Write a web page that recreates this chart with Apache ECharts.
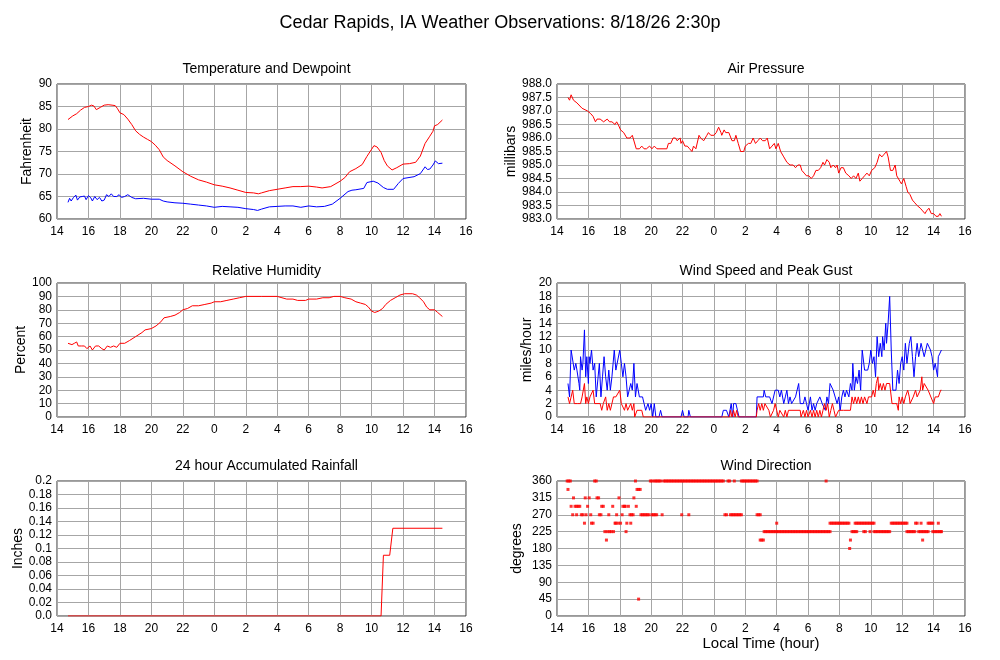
<!DOCTYPE html>
<html>
<head>
<meta charset="utf-8">
<title>Cedar Rapids, IA Weather Observations</title>
<script src="https://cdn.jsdelivr.net/npm/echarts@6/dist/echarts.min.js"></script>
<style>
  html, body { margin: 0; padding: 0; background: #ffffff; }
  #chart { width: 1000px; height: 660px; }
</style>
</head>
<body>
<div id="chart"></div>
<script>
// Hours run on from 14 (2 pm) to 40 (4 pm next day); labels wrap at 24.
const hourTicks = [14, 16, 18, 20, 22, 0, 2, 4, 6, 8, 10, 12, 14, 16];

// [hour, degF]
const temperature = [[14.7,82.1],[15.0,82.9],[15.25,83.4],[15.5,84.2],[15.75,84.8],[16.0,85.0],[16.2,85.3],[16.35,85.1],[16.5,84.3],[16.75,84.8],[17.0,85.3],[17.25,85.4],[17.5,85.3],[17.7,85.2],[17.85,84.5],[18.0,83.6],[18.25,83.2],[18.5,82.2],[18.75,81.0],[19.0,79.6],[19.25,78.8],[19.5,78.2],[19.75,77.7],[20.0,77.2],[20.25,76.4],[20.5,75.4],[20.75,73.8],[21.0,73.0],[21.5,71.8],[22.0,70.5],[22.5,69.5],[23.0,68.7],[23.5,68.2],[24.0,67.6],[24.5,67.3],[25.0,66.9],[25.5,66.4],[26.0,65.9],[26.5,65.8],[26.8,65.6],[27.0,65.8],[27.5,66.3],[28.0,66.6],[28.5,66.9],[29.0,67.2],[29.5,67.2],[30.0,67.3],[30.5,67.1],[30.85,66.9],[31.4,67.2],[32.0,68.4],[32.3,69.2],[32.6,70.5],[33.0,71.2],[33.4,72.1],[33.7,73.9],[34.0,75.5],[34.15,76.3],[34.35,76.0],[34.6,74.8],[34.8,73.0],[35.0,71.8],[35.3,70.9],[35.6,71.4],[36.0,72.2],[36.4,72.3],[36.8,72.6],[37.1,74.0],[37.4,76.8],[37.7,78.4],[37.9,79.5],[38.0,80.7],[38.2,81.0],[38.5,82.0]];

// [hour, degF]
const dewpoint = [[14.7,63.7],[14.8,64.6],[14.9,64.0],[15.05,64.8],[15.2,65.3],[15.3,64.2],[15.45,64.9],[15.6,65.0],[15.75,65.1],[15.85,64.3],[16.0,65.2],[16.15,64.7],[16.25,64.0],[16.4,65.0],[16.55,64.3],[16.7,64.8],[16.85,64.0],[17.0,64.2],[17.15,65.4],[17.3,65.0],[17.45,65.6],[17.6,65.0],[17.8,65.0],[17.95,65.4],[18.1,64.8],[18.3,65.0],[18.5,65.4],[18.75,64.8],[19.0,64.5],[19.5,64.6],[20.0,64.4],[20.5,64.4],[20.75,64.0],[21.0,63.8],[21.5,63.6],[22.0,63.5],[22.5,63.3],[23.0,63.1],[23.5,62.9],[24.0,62.6],[24.5,62.8],[25.0,62.7],[25.5,62.6],[26.0,62.3],[26.5,62.1],[26.75,61.9],[27.0,62.2],[27.5,62.7],[28.0,62.8],[28.5,62.9],[29.0,62.9],[29.5,62.6],[30.0,62.9],[30.5,62.7],[31.0,62.8],[31.5,63.3],[32.0,64.6],[32.5,66.1],[32.75,66.4],[33.0,66.5],[33.5,66.8],[33.7,68.1],[34.1,68.4],[34.4,68.0],[34.75,67.0],[35.0,66.6],[35.4,66.6],[35.7,67.9],[36.0,69.0],[36.7,69.4],[37.1,70.1],[37.4,71.6],[37.55,71.0],[37.7,71.1],[37.9,72.0],[38.05,72.9],[38.25,72.3],[38.5,72.4]];

// [hour, mb]
const pressure = [[14.7,987.5],[14.8,987.4],[14.9,987.6],[15.05,987.4],[15.27,987.3],[15.6,987.1],[15.95,987.0],[16.15,986.9],[16.3,986.8],[16.45,986.6],[16.55,986.7],[16.75,986.7],[16.97,986.6],[17.2,986.7],[17.35,986.6],[17.5,986.6],[17.7,986.5],[17.8,986.6],[17.9,986.5],[18.05,986.3],[18.25,986.2],[18.45,986.0],[18.65,986.0],[18.8,986.1],[19.05,985.6],[19.25,985.6],[19.4,985.7],[19.55,985.6],[19.7,985.6],[19.9,985.7],[20.05,985.6],[20.2,985.7],[20.37,985.6],[21.0,985.6],[21.1,985.8],[21.25,985.8],[21.4,986.0],[21.55,986.0],[21.65,985.9],[21.85,986.0],[21.9,985.8],[22.0,985.9],[22.15,985.7],[22.3,985.7],[22.45,985.6],[22.6,985.5],[22.7,985.7],[22.85,985.6],[23.05,986.1],[23.15,986.0],[23.35,985.9],[23.55,986.1],[23.65,986.2],[23.8,986.1],[24.0,986.1],[24.15,986.2],[24.3,986.4],[24.45,986.2],[24.5,986.1],[24.65,986.3],[24.75,986.2],[24.95,986.2],[25.15,985.9],[25.3,985.9],[25.4,986.1],[25.55,985.8],[25.7,985.5],[25.9,985.5],[26.0,985.7],[26.2,985.8],[26.35,985.8],[26.5,986.0],[26.65,985.8],[26.8,985.9],[26.95,986.0],[27.1,985.9],[27.27,985.9],[27.4,986.0],[27.55,985.6],[27.7,985.7],[27.85,985.8],[27.95,985.6],[28.1,985.8],[28.25,985.5],[28.45,985.3],[28.65,985.1],[28.85,985.0],[29.05,985.0],[29.2,984.9],[29.35,985.0],[29.5,985.0],[29.6,984.8],[29.75,984.7],[29.9,984.6],[30.05,984.6],[30.2,984.5],[30.35,984.6],[30.5,984.8],[30.65,984.8],[30.8,984.9],[30.95,985.1],[31.05,985.0],[31.2,985.2],[31.35,985.1],[31.45,984.9],[31.6,985.0],[31.75,984.9],[31.85,985.0],[31.95,984.7],[32.1,984.9],[32.25,984.9],[32.4,984.7],[32.6,984.6],[32.75,984.5],[32.9,984.6],[33.05,984.5],[33.2,984.7],[33.3,984.4],[33.45,984.5],[33.6,984.6],[33.75,984.7],[33.9,984.6],[34.05,984.8],[34.25,984.9],[34.4,985.1],[34.55,985.4],[34.7,985.3],[34.85,985.4],[35.0,985.5],[35.1,985.3],[35.25,984.8],[35.4,984.8],[35.55,985.0],[35.65,984.6],[35.85,984.4],[35.95,984.3],[36.1,984.5],[36.25,984.2],[36.35,984.0],[36.5,983.9],[36.65,983.7],[36.8,983.6],[36.95,983.5],[37.15,983.4],[37.3,983.3],[37.45,983.2],[37.55,983.3],[37.7,983.4],[37.85,983.2],[38.0,983.2],[38.15,983.1],[38.3,983.1],[38.4,983.2],[38.5,983.1]];

// [hour, percent]
const humidity = [[14.7,55],[14.8,56],[14.95,54],[15.1,55],[15.25,56],[15.35,53],[15.55,53],[15.75,53],[15.9,51],[16.0,52],[16.1,53],[16.25,50],[16.45,53],[16.65,53],[16.85,51],[17.0,50],[17.2,53],[17.4,52],[17.6,53],[17.8,52],[18.0,55],[18.3,55],[18.6,57],[19.0,60],[19.4,63],[19.6,65],[20.0,66],[20.3,68],[20.6,71],[20.8,74],[21.2,75],[21.5,76],[21.8,78],[22.0,80],[22.3,81],[22.6,83],[23.0,83],[23.4,84],[23.8,85],[24.0,86],[24.4,86],[24.8,87],[25.2,88],[25.6,89],[26.0,90],[27.0,90],[28.0,90],[28.3,89],[28.6,88],[29.0,88],[29.3,87],[29.8,87],[30.0,88],[30.5,88],[30.9,89],[31.3,89],[31.6,90],[32.0,90],[32.3,89],[32.7,88],[33.0,86],[33.3,85],[33.6,84],[33.8,82],[34.0,79],[34.2,78],[34.45,79],[34.7,81],[34.9,84],[35.2,87],[35.5,89],[35.8,91],[36.1,92],[36.6,92],[36.85,91],[37.05,89],[37.3,86],[37.5,82],[37.7,80],[38.0,80],[38.2,78],[38.5,75]];

// [hour, mph]
const windGust = [[14.7,5],[14.8,3],[14.9,10],[15.0,10],[15.1,7],[15.2,8],[15.27,7],[15.4,5],[15.45,4],[15.5,9],[15.6,7],[15.65,8],[15.75,13],[15.83,6],[15.9,9],[16.0,5],[16.05,9],[16.1,8],[16.2,10],[16.3,7],[16.4,8],[16.5,3],[16.6,3],[16.7,8],[16.8,3],[16.9,6],[17.0,9],[17.1,6],[17.2,4],[17.3,7],[17.4,4],[17.5,6],[17.65,10],[17.75,7],[17.85,7],[18.0,10],[18.1,8],[18.2,6],[18.3,8],[18.4,6],[18.5,3],[18.6,4],[18.7,5],[18.8,4],[18.9,8],[19.0,3],[19.1,5],[19.25,3],[19.35,3],[19.45,3],[19.55,2],[19.65,1],[19.8,2],[19.9,1],[20.0,2],[20.1,0],[20.2,2],[20.3,0],[20.5,0],[20.6,1],[20.7,0],[21.9,0],[22.0,1],[22.1,0],[22.35,0],[22.4,1],[22.5,0],[24.5,0],[24.6,1],[24.8,1],[24.95,0],[25.1,2],[25.2,0],[25.25,2],[25.4,2],[25.5,1],[25.6,0],[26.7,0],[26.75,3],[27.15,3],[27.2,4],[27.3,3],[27.55,3],[27.7,2],[27.8,2],[27.9,4],[28.1,4],[28.2,3],[28.3,4],[28.45,2],[28.55,3],[28.65,4],[28.75,2],[28.85,3],[28.95,2],[29.2,3],[29.4,5],[29.5,2],[29.7,2],[29.8,3],[29.9,2],[30.0,1],[30.15,3],[30.25,1],[30.35,2],[30.45,1],[30.55,2],[30.65,2],[30.75,3],[30.9,2],[31.0,2],[31.1,1],[31.2,3],[31.3,2],[31.4,5],[31.5,5],[31.6,4],[31.7,4],[31.85,2],[31.95,3],[32.05,1],[32.15,3],[32.25,4],[32.35,3],[32.45,4],[32.6,3],[32.7,5],[32.8,4],[32.85,8],[32.95,4],[33.05,6],[33.15,5],[33.25,7],[33.35,4],[33.45,10],[33.6,7],[33.7,7],[33.8,7],[33.9,8],[34.0,10],[34.1,8],[34.2,9],[34.3,6],[34.4,12],[34.5,9],[34.6,11],[34.7,9],[34.75,12],[34.85,10],[34.95,14],[35.0,11],[35.1,14],[35.2,18],[35.3,10],[35.4,4],[35.5,4],[35.6,4],[35.7,7],[35.8,5],[35.9,8],[36.0,9],[36.1,7],[36.2,11],[36.3,8],[36.45,11],[36.55,12],[36.65,9],[36.75,6],[36.85,9],[36.95,11],[37.05,9],[37.2,11],[37.3,11],[37.4,9],[37.5,10],[37.6,11],[37.7,11],[37.8,10],[37.9,9],[38.0,7],[38.1,8],[38.25,6],[38.3,9],[38.4,9],[38.5,10]];

// [hour, mph]
const windSpeed = [[14.7,3],[14.8,2],[14.9,2],[15.0,4],[15.1,2],[15.3,2],[15.5,2],[15.6,3],[15.7,3],[15.75,5],[15.83,2],[15.9,3],[16.0,2],[16.1,3],[16.15,3],[16.3,4],[16.4,2],[16.55,2],[16.75,2],[16.85,1],[16.95,2],[17.1,3],[17.2,1],[17.3,2],[17.4,1],[17.5,2],[17.6,3],[17.75,3],[17.85,3],[18.0,4],[18.1,2],[18.2,2],[18.3,1],[18.4,2],[18.5,1],[18.6,1],[18.7,2],[18.8,1],[18.9,2],[18.95,0],[19.1,1],[19.4,1],[19.5,0],[25.0,0],[25.05,1],[25.15,0],[25.25,1],[25.35,0],[25.45,1],[25.55,0],[26.7,0],[26.75,1],[26.85,2],[26.95,1],[27.05,2],[27.15,1],[27.25,2],[27.35,2],[27.5,1],[27.6,0],[27.7,0],[27.8,1],[27.9,2],[28.0,1],[28.1,0],[28.2,1],[28.3,1],[28.45,0],[28.55,1],[28.65,0],[28.75,1],[28.85,1],[29.5,1],[29.55,0],[29.7,1],[29.8,0],[29.9,1],[30.0,0],[30.15,1],[30.25,0],[30.35,1],[30.45,0],[30.55,1],[30.65,0],[30.75,1],[30.85,0],[30.95,1],[31.05,2],[31.15,1],[31.25,2],[31.35,0],[31.45,1],[31.55,2],[31.65,1],[31.75,0],[31.85,0],[31.95,1],[32.25,1],[32.7,1],[32.8,3],[32.9,2],[33.0,3],[33.1,2],[33.2,3],[33.3,2],[33.4,3],[33.5,2],[33.6,3],[33.75,2],[33.85,3],[33.95,3],[34.05,3],[34.15,4],[34.25,3],[34.35,5],[34.45,6],[34.5,4],[34.6,5],[34.7,4],[34.8,5],[34.9,4],[35.0,5],[35.1,5],[35.2,5],[35.35,2],[35.5,2],[35.65,2],[35.75,1],[35.8,3],[35.9,2],[36.0,3],[36.1,2],[36.2,3],[36.25,3],[36.35,4],[36.45,3],[36.5,2],[36.6,2],[36.7,3],[36.8,3],[36.85,4],[36.95,3],[37.05,3],[37.15,4],[37.25,6],[37.3,4],[37.4,5],[37.5,5],[37.65,4],[38.0,2],[38.1,3],[38.2,3],[38.3,3],[38.45,4],[38.5,4]];

// [hour, inches]
const rainfall = [[14.7,0],[34.6,0],[34.75,0.09],[35.15,0.09],[35.35,0.13],[38.5,0.13]];

// [hour, degrees]
const windDirection = [
  [14.65,360],[14.75,360],[14.85,360],[14.7,337.5],[14.9,292.5],[15.0,270],[15.05,315],[15.15,292.5],[15.25,270],[15.25,292.5],[15.35,292.5],[15.45,292.5],
  [15.55,270],[15.65,270],[15.75,247.5],[15.8,315],[15.85,270],[15.95,292.5],[16.05,315],[16.15,270],[16.2,247.5],[16.3,247.5],[16.4,360],[16.5,360],
  [16.55,315],[16.65,315],[16.7,270],[16.8,270],[16.85,292.5],[16.95,292.5],[17.05,225],[17.15,202.5],[17.2,225],[17.3,270],[17.35,225],[17.45,225],
  [17.55,292.5],[17.6,225],[17.7,247.5],[17.75,247.5],[17.8,270],[17.9,247.5],[17.95,315],[18.05,247.5],[18.15,270],[18.2,292.5],[18.3,292.5],[18.35,292.5],
  [18.4,225],[18.45,247.5],[18.55,292.5],[18.65,270],[18.7,247.5],[18.75,270],[18.85,270],[18.9,315],[19.0,360],[19.05,292.5],[19.1,337.5],[19.2,337.5],
  [19.3,337.5],[19.2,45],[19.35,270],[19.45,270],[19.55,270],[19.65,270],[19.75,270],[19.85,270],[19.95,360],[20.05,360],[20.05,270],[20.15,270],
  [20.25,270],[20.35,270],[20.2,360],[20.3,360],[20.4,360],[20.5,360],[20.6,360],[20.7,270],[20.8,360],[20.9,360],[21.0,360],[21.1,360],
  [21.2,360],[21.3,360],[21.4,360],[21.5,360],[21.6,360],[21.7,360],[21.8,360],[21.9,360],[21.95,270],[22.0,360],[22.1,360],[22.2,360],
  [22.3,360],[22.4,360],[22.4,270],[22.5,360],[22.6,360],[22.7,360],[22.8,360],[22.9,360],[23.0,360],[23.1,360],[23.2,360],[23.3,360],
  [23.4,360],[23.5,360],[23.6,360],[23.7,360],[23.8,360],[23.9,360],[24.0,360],[24.1,360],[24.2,360],[24.3,360],[24.4,360],[24.5,360],
  [24.6,360],[24.7,270],[24.8,270],[24.9,360],[25.0,360],[25.05,270],[25.15,270],[25.25,270],[25.3,360],[25.35,270],[25.45,270],[25.55,270],
  [25.65,270],[25.75,270],[25.75,360],[25.85,360],[25.95,360],[26.05,360],[26.15,360],[26.25,360],[26.35,360],[26.45,360],[26.55,360],[26.65,360],
  [26.75,360],[26.75,270],[26.85,270],[26.95,270],[26.95,202.5],[27.05,202.5],[27.15,202.5],[27.2,225],[27.3,225],[27.4,225],[27.5,225],[27.6,225],
  [27.7,225],[27.8,225],[27.9,225],[28.0,247.5],[28.0,225],[28.1,225],[28.2,225],[28.3,225],[28.4,225],[28.5,225],[28.6,225],[28.7,225],
  [28.8,225],[28.9,225],[29.0,225],[29.1,225],[29.2,225],[29.3,225],[29.4,225],[29.5,225],[29.6,225],[29.7,225],[29.8,225],[29.9,225],
  [30.0,225],[30.1,225],[30.2,225],[30.3,225],[30.4,225],[30.5,225],[30.6,225],[30.7,225],[30.8,225],[30.9,225],[31.0,225],[31.1,225],
  [31.15,360],[31.2,225],[31.3,225],[31.4,225],[31.4,247.5],[31.5,247.5],[31.6,247.5],[31.7,247.5],[31.8,247.5],[31.9,247.5],[32.0,247.5],[32.1,247.5],
  [32.2,247.5],[32.3,247.5],[32.4,247.5],[32.5,247.5],[32.6,247.5],[32.65,180],[32.7,202.5],[32.8,225],[32.9,225],[33.0,225],[33.1,225],[33.0,247.5],
  [33.1,247.5],[33.2,247.5],[33.3,247.5],[33.4,247.5],[33.5,247.5],[33.6,247.5],[33.55,225],[33.65,225],[33.7,247.5],[33.8,247.5],[33.9,247.5],[33.95,225],
  [34.0,247.5],[34.1,247.5],[34.2,247.5],[34.2,225],[34.3,225],[34.4,225],[34.5,225],[34.6,225],[34.7,225],[34.8,225],[34.9,225],[35.0,225],
  [35.1,225],[35.2,225],[35.3,247.5],[35.4,247.5],[35.5,247.5],[35.6,247.5],[35.7,247.5],[35.8,247.5],[35.9,247.5],[36.0,247.5],[36.1,247.5],[36.2,247.5],
  [36.3,247.5],[36.3,225],[36.4,225],[36.5,225],[36.6,225],[36.7,225],[36.8,225],[36.85,247.5],[36.95,247.5],[37.05,225],[37.15,225],[37.2,247.5],
  [37.25,225],[37.3,202.5],[37.35,225],[37.45,225],[37.55,225],[37.65,225],[37.65,247.5],[37.75,247.5],[37.85,247.5],[37.95,247.5],[37.95,225],[38.05,225],
  [38.15,225],[38.25,225],[38.3,247.5],[38.35,225],[38.45,225],[38.5,225]
];

const FONT = 'Liberation Sans, Arial, Helvetica, sans-serif';
const RED = '#ff0000';
const BLUE = '#0000ff';

// plot boxes, left column then right column, row by row
const grids = [
  { left: 57, top: 84, width: 409, height: 135 },
  { left: 557, top: 84, width: 408, height: 135 },
  { left: 57, top: 283, width: 409, height: 134 },
  { left: 557, top: 283, width: 408, height: 134 },
  { left: 57, top: 481, width: 409, height: 135 },
  { left: 557, top: 481, width: 408, height: 135 }
].map(g => Object.assign({
  show: true,
  backgroundColor: '#ffffff',
  borderColor: '#333333',
  borderWidth: 1
}, g));

const panelTitles = [
  'Temperature and Dewpoint', 'Air Pressure',
  'Relative Humidity', 'Wind Speed and Peak Gust',
  '24 hour Accumulated Rainfall', 'Wind Direction'
];
const titleTops = [57, 57, 259, 259, 454, 454];

function xAxisFor(i, name) {
  return {
    type: 'value',
    gridIndex: i,
    min: 14,
    max: 40,
    interval: 2,
    name: name || '',
    nameLocation: 'middle',
    nameGap: 19,
    nameTextStyle: { fontFamily: FONT, fontSize: 15, color: '#000' },
    axisLine: { show: false },
    axisTick: { show: false },
    axisLabel: {
      fontFamily: FONT, fontSize: 12, color: '#000', margin: 7,
      formatter: v => String(hourTicks[Math.round((v - 14) / 2)])
    },
    splitLine: { show: true, lineStyle: { color: '#a6a6a6', width: 1 } }
  };
}

function yAxisFor(i, name, min, max, interval, gap, fmt) {
  return {
    type: 'value',
    gridIndex: i,
    min: min,
    max: max,
    interval: interval,
    name: name,
    nameLocation: 'middle',
    nameRotate: 90,
    nameGap: gap,
    nameTextStyle: { fontFamily: FONT, fontSize: 14, color: '#000' },
    axisLine: { show: false },
    axisTick: { show: false },
    axisLabel: { fontFamily: FONT, fontSize: 12, color: '#000', margin: 5, formatter: fmt },
    splitLine: { show: true, lineStyle: { color: '#a6a6a6', width: 1 } }
  };
}

function lineSeries(i, name, data, color) {
  return {
    type: 'line',
    name: name,
    xAxisIndex: i,
    yAxisIndex: i,
    data: data,
    showSymbol: false,
    symbol: 'none',
    lineStyle: { color: color, width: 1 },
    itemStyle: { color: color }
  };
}

const chart = echarts.init(document.getElementById('chart'), null, { renderer: 'canvas' });

const option = {
  animation: false,
  backgroundColor: '#ffffff',
  title: [{
    text: 'Cedar Rapids, IA Weather Observations: 8/18/26 2:30p',
    left: 'center',
    top: 9,
    textStyle: { fontFamily: FONT, fontSize: 18, fontWeight: 'normal', color: '#000' }
  }].concat(panelTitles.map((t, i) => ({
    text: t,
    left: grids[i].left + grids[i].width / 2,
    top: titleTops[i],
    textAlign: 'center',
    textStyle: { fontFamily: FONT, fontSize: 14, fontWeight: 'normal', color: '#000' }
  }))),
  grid: grids,
  xAxis: [0, 1, 2, 3, 4, 5].map(i => xAxisFor(i, i === 5 ? 'Local Time (hour)' : '')),
  yAxis: [
    yAxisFor(0, 'Fahrenheit', 60, 90, 5, 23),
    yAxisFor(1, 'millibars', 983, 988, 0.5, 39, v => v.toFixed(1)),
    yAxisFor(2, 'Percent', 0, 100, 10, 29),
    yAxisFor(3, 'miles/hour', 0, 20, 2, 23),
    yAxisFor(4, 'Inches', 0, 0.2, 0.02, 32, v => (Math.abs(v) < 1e-9 ? '0.0' : String(Number(v.toFixed(2))))),
    yAxisFor(5, 'degrees', 0, 360, 45, 33)
  ],
  series: [
    lineSeries(0, 'Temperature', temperature, RED),
    lineSeries(0, 'Dewpoint', dewpoint, BLUE),
    lineSeries(1, 'Pressure', pressure, RED),
    lineSeries(2, 'Relative Humidity', humidity, RED),
    lineSeries(3, 'Peak Gust', windGust, BLUE),
    lineSeries(3, 'Wind Speed', windSpeed, RED),
    lineSeries(4, 'Rainfall', rainfall, RED),
    {
      type: 'scatter',
      name: 'Wind Direction',
      xAxisIndex: 5,
      yAxisIndex: 5,
      data: windDirection,
      symbol: 'rect',
      symbolSize: [3, 3],
      itemStyle: { color: RED }
    }
  ]
};

chart.setOption(option);
window.addEventListener('resize', () => chart.resize());
</script>
</body>
</html>
